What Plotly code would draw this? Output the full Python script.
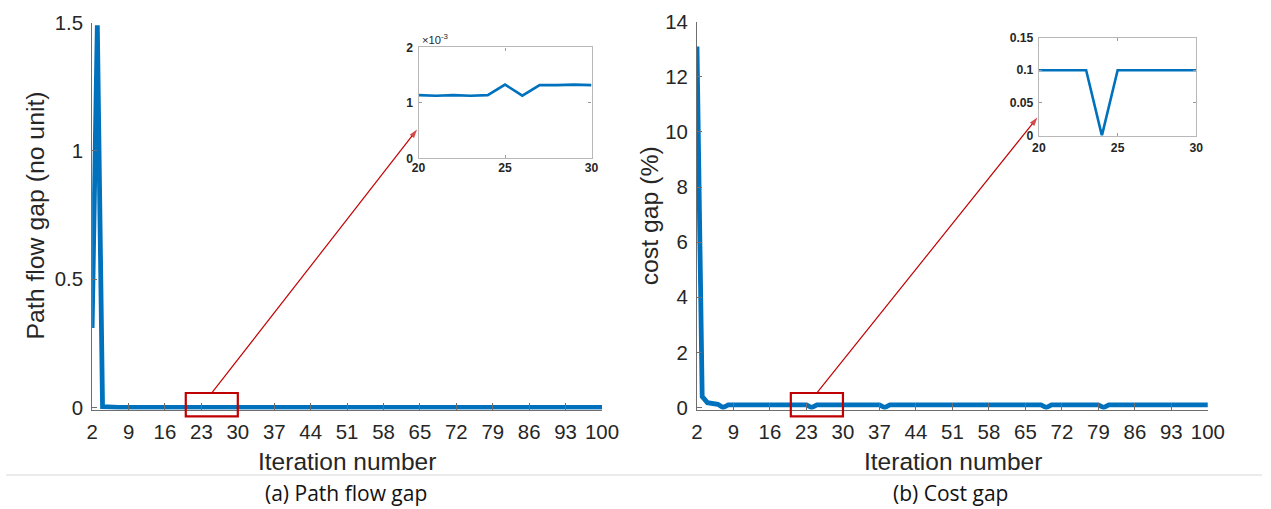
import plotly.graph_objects as go

# ---------------------------------------------------------------- data
iterations = list(range(2, 101))

# path flow gap (no unit), iterations 2..100
path_flow_gap = [
    0.31, 1.49, 0.0035, 0.0016, 0.0013, 0.00121, 0.00118, 0.00115, 0.00116, 0.00114,
    0.00115, 0.00113, 0.00115, 0.00114, 0.00116, 0.00113, 0.00115, 0.00114, 0.00114, 0.00113,
    0.00114, 0.00113, 0.00114, 0.00133, 0.00113, 0.00132, 0.00132, 0.00133, 0.00132, 0.00131,
    0.00132, 0.00130, 0.00131, 0.00132, 0.00130, 0.00131, 0.00129, 0.00130, 0.00131, 0.00130,
    0.00129, 0.00130, 0.00131, 0.00129, 0.00130, 0.00129, 0.00128, 0.00130, 0.00129, 0.00128,
    0.00129, 0.00130, 0.00128, 0.00129, 0.00128, 0.00127, 0.00129, 0.00128, 0.00127, 0.00128,
    0.00129, 0.00127, 0.00128, 0.00127, 0.00126, 0.00128, 0.00127, 0.00126, 0.00127, 0.00128,
    0.00126, 0.00127, 0.00126, 0.00125, 0.00127, 0.00126, 0.00125, 0.00126, 0.00127, 0.00125,
    0.00126, 0.00125, 0.00124, 0.00126, 0.00125, 0.00124, 0.00125, 0.00126, 0.00124, 0.00125,
    0.00124, 0.00123, 0.00125, 0.00124, 0.00123, 0.00124, 0.00125, 0.00123, 0.00124,
]

# cost gap (%), iterations 2..100
cost_gap = [
    13.1, 0.40, 0.18, 0.14, 0.12, 0.0, 0.1, 0.1, 0.1, 0.1,
    0.1, 0.1, 0.1, 0.1, 0.1, 0.1, 0.1, 0.1, 0.1, 0.1,
    0.1, 0.1, 0.0, 0.1, 0.1, 0.1, 0.1, 0.1, 0.1, 0.1,
    0.1, 0.1, 0.1, 0.1, 0.1, 0.1, 0.0, 0.1, 0.1, 0.1,
    0.1, 0.1, 0.1, 0.1, 0.1, 0.1, 0.1, 0.1, 0.1, 0.1,
    0.1, 0.1, 0.1, 0.1, 0.1, 0.1, 0.1, 0.1, 0.1, 0.1,
    0.1, 0.1, 0.1, 0.1, 0.1, 0.1, 0.1, 0.0, 0.1, 0.1,
    0.1, 0.1, 0.1, 0.1, 0.1, 0.1, 0.1, 0.1, 0.0, 0.1,
    0.1, 0.1, 0.1, 0.1, 0.1, 0.1, 0.1, 0.1, 0.1, 0.1,
    0.1, 0.1, 0.1, 0.1, 0.1, 0.1, 0.1, 0.1, 0.1,
]

x_ticks = list(range(2, 101, 7))
left_y_ticks = [0, 0.5, 1, 1.5]
left_y_text = ["0", "0.5", "1", "1.5"]
right_y_ticks = [0, 2, 4, 6, 8, 10, 12, 14]

zoom_window = (20, 30)
inset_left_ticks = [0, 0.001, 0.002]
inset_left_text = ["0", "1", "2"]
inset_right_ticks = [0, 0.05, 0.1, 0.15]
inset_right_text = ["0", "0.05", "0.1", "0.15"]

# zoom box vertical extent (data units of each main panel)
zoom_box_left_y = (-0.034, 0.057)
zoom_box_right_y = (-0.32, 0.53)

# ---------------------------------------------------------------- layout geometry
# Positions below are given in output-image pixels (1271 x 509).  The page is
# laid out a little larger (body margin included) and shown scaled down, so
# every position and font size is converted to figure units here.
OUT_W, OUT_H = 1271, 509
PAGE_W, PAGE_H = 1295, 525
BODY = 8
S_X, S_Y = OUT_W / PAGE_W, OUT_H / PAGE_H
W, H = PAGE_W - 2 * BODY, PAGE_H - 2 * BODY

BLUE = "#0072BD"
DARKRED = "#C00000"
AXIS = "#6e6e6e"
TEXT = "#262626"
FONT = "Liberation Sans, Arial, sans-serif"


def fx(p):
    return (p / S_X - BODY) / W


def fy(p):
    return 1 - (p / S_Y - BODY) / H


def fs(size, vertical=False):
    return round(size / (S_Y if vertical else S_X), 1)


class Panel:
    """Pixel frame of a main panel: x range [2,100], y range [0, ytop]."""

    def __init__(self, x0, x1, y_zero, y_top, ytop, pad=2.0):
        self.x0, self.x1, self.y_zero, self.y_top, self.ytop = x0, x1, y_zero, y_top, ytop
        self.scale = (y_zero - y_top) / ytop
        self.pad = pad

    def domain_x(self):
        return [fx(self.x0), fx(self.x1)]

    def domain_y(self):
        return [fy(self.y_zero + self.pad), fy(self.y_top)]

    def yrange(self):
        return [-self.pad / self.scale, self.ytop]

    def px(self, xv):
        return self.x0 + (xv - 2) * (self.x1 - self.x0) / 98.0

    def py(self, yv):
        return self.y_zero - yv * self.scale


left = Panel(93, 603, 408, 19.5, 1.5)
right = Panel(698, 1209, 408, 18.5, 14)

# inset boxes in pixels (left, top, right, bottom)
inset_l = (419.5, 44.5, 592.5, 156.5)
inset_r = (1040, 34.5, 1197.5, 133.5)

fig = go.Figure()

fig.add_trace(go.Scatter(x=iterations, y=path_flow_gap, mode="lines",
                         line=dict(color=BLUE, width=4.8), xaxis="x", yaxis="y",
                         showlegend=False, hoverinfo="skip"))
fig.add_trace(go.Scatter(x=iterations, y=cost_gap, mode="lines",
                         line=dict(color=BLUE, width=4.8), xaxis="x2", yaxis="y2",
                         showlegend=False, hoverinfo="skip"))

lo, hi = zoom_window
sel = [i for i, it in enumerate(iterations) if lo <= it <= hi]
fig.add_trace(go.Scatter(x=[iterations[i] for i in sel], y=[path_flow_gap[i] for i in sel],
                         mode="lines", line=dict(color=BLUE, width=2.6),
                         xaxis="x3", yaxis="y3", showlegend=False, hoverinfo="skip"))
fig.add_trace(go.Scatter(x=[iterations[i] for i in sel], y=[cost_gap[i] for i in sel],
                         mode="lines", line=dict(color=BLUE, width=2.6),
                         xaxis="x4", yaxis="y4", showlegend=False, hoverinfo="skip"))

tick_font = dict(family=FONT, size=fs(20), color=TEXT)


def main_xaxis(panel, anchor):
    return dict(domain=panel.domain_x(), range=[2, 100], anchor=anchor,
                tickmode="array", tickvals=x_ticks, ticks="inside", ticklen=7,
                tickcolor=AXIS, showline=True, linecolor=AXIS, linewidth=1,
                showgrid=False, zeroline=False, tickfont=tick_font,
                ticklabelstandoff=4)


def main_yaxis(panel, anchor, vals, text):
    return dict(domain=panel.domain_y(), range=panel.yrange(), anchor=anchor,
                tickmode="array", tickvals=vals, ticktext=text, ticks="inside",
                ticklen=5, tickcolor=AXIS, showline=True, linecolor=AXIS,
                linewidth=1, showgrid=False, zeroline=False, tickfont=tick_font,
                ticklabelstandoff=4)


inset_font = dict(family=FONT, size=fs(12), color=TEXT, weight="bold")


def inset_axes(box, yrange, yvals, ytext, xa, ya, x_standoff):
    l, t, r, b = box
    xaxis = dict(domain=[fx(l), fx(r)], range=[20, 30], anchor=ya,
                 tickmode="array", tickvals=[20, 25, 30], ticks="inside", ticklen=3,
                 tickcolor="#9a9a9a", showline=True, mirror="ticks",
                 linecolor="#b8b8b8", linewidth=1.2, showgrid=False, zeroline=False,
                 tickfont=inset_font, ticklabelstandoff=x_standoff)
    yaxis = dict(domain=[fy(b), fy(t)], range=yrange, anchor=xa,
                 tickmode="array", tickvals=yvals, ticktext=ytext, ticks="inside",
                 ticklen=3, tickcolor="#9a9a9a", showline=True, mirror="ticks",
                 linecolor="#b8b8b8", linewidth=1.2, showgrid=False, zeroline=False,
                 tickfont=inset_font, ticklabelstandoff=2)
    return xaxis, yaxis


x3, y3 = inset_axes(inset_l, [0, 0.002], inset_left_ticks, inset_left_text, "x3", "y3", -2)
x4, y4 = inset_axes(inset_r, [0, 0.15], inset_right_ticks, inset_right_text, "x4", "y4", 1)

# full-figure overlay in output-pixel coordinates for the pointer arrows
x5 = dict(domain=[0, 1], range=[BODY * S_X, (BODY + W) * S_X], visible=False,
          anchor="y5", fixedrange=True)
y5 = dict(domain=[0, 1], range=[(BODY + H) * S_Y, BODY * S_Y], visible=False,
          anchor="x5", fixedrange=True)

shapes = []
annotations = []

# zoom boxes and arrows pointing at the insets
for panel, (yb, yt), box, tip_frac in (
    (left, zoom_box_left_y, inset_l, 0.26),
    (right, zoom_box_right_y, inset_r, 0.185),
):
    bx0, bx1 = panel.px(lo), panel.px(hi)
    by0, by1 = panel.py(yb), panel.py(yt)
    shapes.append(dict(type="rect", xref="paper", yref="paper",
                       x0=fx(bx0), x1=fx(bx1), y0=fy(by0), y1=fy(by1),
                       line=dict(color=DARKRED, width=2.2), fillcolor="rgba(0,0,0,0)"))
    tail_x, tail_y = panel.px((lo + hi) / 2), by1
    l, t, r, b = box
    tip_x, tip_y = l - 1.5, b - tip_frac * (b - t)
    fig.add_trace(go.Scatter(
        x=[tail_x, tip_x], y=[tail_y, tip_y], xaxis="x5", yaxis="y5",
        mode="lines+markers", line=dict(color=DARKRED, width=1.2),
        marker=dict(symbol=["circle", "arrow"], size=[0, 9], color=DARKRED,
                    angleref="previous", line=dict(width=0)),
        showlegend=False, hoverinfo="skip", cliponaxis=False))

# exponent label of the left inset
annotations.append(dict(xref="paper", yref="paper", x=fx(inset_l[0] + 1), y=fy(36),
                        text="×10<sup>-3</sup>", showarrow=False, xanchor="left",
                        yanchor="middle", font=dict(family=FONT, size=fs(11), color=TEXT)))

title_font = dict(family=FONT, size=fs(24), color=TEXT)
vtitle_font = dict(family=FONT, size=fs(24, vertical=True), color=TEXT)
annotations += [
    dict(xref="paper", yref="paper", x=fx(36), y=fy(214), text="Path flow gap (no unit)",
         textangle=-90, showarrow=False, font=vtitle_font, xanchor="center", yanchor="middle"),
    dict(xref="paper", yref="paper", x=fx(650), y=fy(214), text="cost gap (%)",
         textangle=-90, showarrow=False, font=vtitle_font, xanchor="center", yanchor="middle"),
    dict(xref="paper", yref="paper", x=fx(348), y=fy(462), text="Iteration number",
         showarrow=False, font=title_font, xanchor="center", yanchor="middle"),
    dict(xref="paper", yref="paper", x=fx(954), y=fy(462), text="Iteration number",
         showarrow=False, font=title_font, xanchor="center", yanchor="middle"),
]

caption_font = dict(family="Open Sans, Noto Sans, sans-serif", size=fs(20.6), color="#111111")
annotations += [
    dict(xref="paper", yref="paper", x=fx(347), y=fy(494), text="(a) Path flow gap",
         showarrow=False, font=caption_font, xanchor="center", yanchor="middle"),
    dict(xref="paper", yref="paper", x=fx(952), y=fy(494), text="(b) Cost gap",
         showarrow=False, font=caption_font, xanchor="center", yanchor="middle"),
]

# separator between the panels and their captions
shapes.append(dict(type="line", xref="paper", yref="paper", x0=fx(7), x1=1,
                   y0=fy(476), y1=fy(476), line=dict(color="#d9d9d9", width=1)))

fig.update_layout(
    width=W, height=H,
    margin=dict(l=0, r=0, t=0, b=0),
    paper_bgcolor="white", plot_bgcolor="rgba(0,0,0,0)",
    xaxis=main_xaxis(left, "y"),
    yaxis=main_yaxis(left, "x", left_y_ticks, left_y_text),
    xaxis2=main_xaxis(right, "y2"),
    yaxis2=main_yaxis(right, "x2", right_y_ticks, [str(v) for v in right_y_ticks]),
    xaxis3=x3, yaxis3=y3, xaxis4=x4, yaxis4=y4,
    xaxis5=x5, yaxis5=y5,
    shapes=shapes, annotations=annotations,
    showlegend=False,
)

fig.write_html("out.html", config={"displayModeBar": False})
